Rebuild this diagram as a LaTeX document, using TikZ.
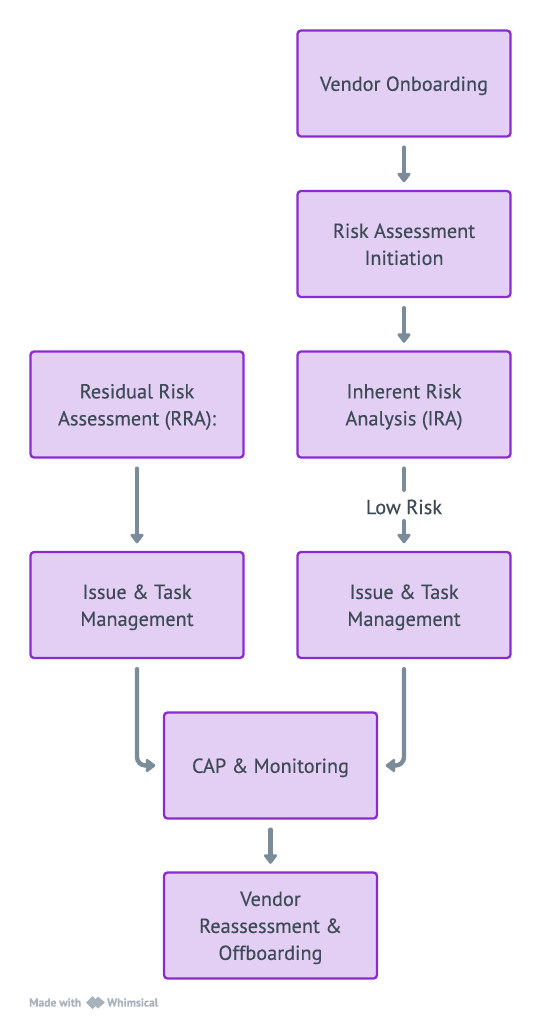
\documentclass[tikz,border=0pt]{standalone}
\usepackage{fontspec}
\setmainfont{PT Sans}[FakeBold=0.3]
\usetikzlibrary{arrows.meta}
\definecolor{boxfill}{HTML}{E3CFF4}
\definecolor{boxline}{HTML}{8A2BD2}
\definecolor{linkcol}{HTML}{7A8B9A}
\definecolor{textcol}{HTML}{3F4A58}
\definecolor{markcol}{HTML}{A9B2BB}
\newcommand\mlines[1]{\raisebox{-2pt}[\height][\depth]{\begin{tabular}{@{}c@{}}#1\end{tabular}}}
\tikzset{
  stepbox/.style={draw=boxline,fill=boxfill,line width=2.3pt,rounded corners=3.5pt,minimum width=213pt,minimum height=106pt,inner sep=0pt,text=textcol,font=\fontsize{20.3}{27}\selectfont,
    execute at begin node={\rule{0pt}{19pt}},execute at end node={\rule[-4pt]{0pt}{4pt}}},
  link/.style={draw=linkcol,line width=4.4pt,line cap=round,-{Triangle[width=15pt,length=10.5pt,round]},shorten <=10pt,shorten >=7.5pt},
  elbow/.style={link,rounded corners=8.5pt},
  linklabel/.style={text=textcol,inner sep=0pt,minimum height=22pt,font=\fontsize{20.3}{24}\selectfont},
  brandtext/.style={text=markcol,inner sep=0pt,font=\bfseries\fontsize{11.6}{13}\selectfont}
}
\begin{document}
\begin{tikzpicture}[x=1pt,y=-1pt]
\useasboundingbox (0,0) rectangle (541,1024);
\node[stepbox] (onb) at (404,83.5) {Vendor Onboarding};
\node[stepbox] (init) at (404,244) {\mlines{Risk Assessment\\Initiation}};
\node[stepbox] (ira) at (404,404.5) {\mlines{Inherent Risk\\Analysis (IRA)}};
\node[stepbox] (rra) at (137,404.5) {\mlines{Residual Risk\\Assessment (RRA):}};
\node[stepbox] (itr) at (404,605) {\mlines{Issue \& Task\\Management}};
\node[stepbox] (itl) at (137,605) {\mlines{Issue \& Task\\Management}};
\node[stepbox] (cap) at (270.5,765.5) {CAP \& Monitoring};
\node[stepbox] (off) at (270.5,925.5) {\mlines{Vendor\\Reassessment \&\\Offboarding}};
\node[linklabel] (lr) at (404,507) {Low Risk};
\draw[link] (onb.south) -- (init.north);
\draw[link] (init.south) -- (ira.north);
\draw[link,-,shorten >=6pt] (ira.south) -- (lr.north);
\draw[link,shorten <=3pt] (lr.south) -- (itr.north);
\draw[link] (rra.south) -- (itl.north);
\draw[elbow] (itl.south) |- (cap.west);
\draw[elbow] (itr.south) |- (cap.east);
\draw[link] (cap.south) -- (off.north);
\node[brandtext,anchor=west] (mw) at (29,1002.5) {Made with};
\node[brandtext,anchor=west] (wh) at (107,1002.5) {Whimsical};
\fill[markcol] (86,1002.5) -- (92.5,996) -- (95.5,999) -- (92,1002.5) -- (95.5,1006) -- (92.5,1009) -- cycle;
\fill[markcol] (92,1002.5) -- (98,996.5) -- (105,1002.5) -- (98,1008.5) -- cycle;
\end{tikzpicture}
\end{document}
